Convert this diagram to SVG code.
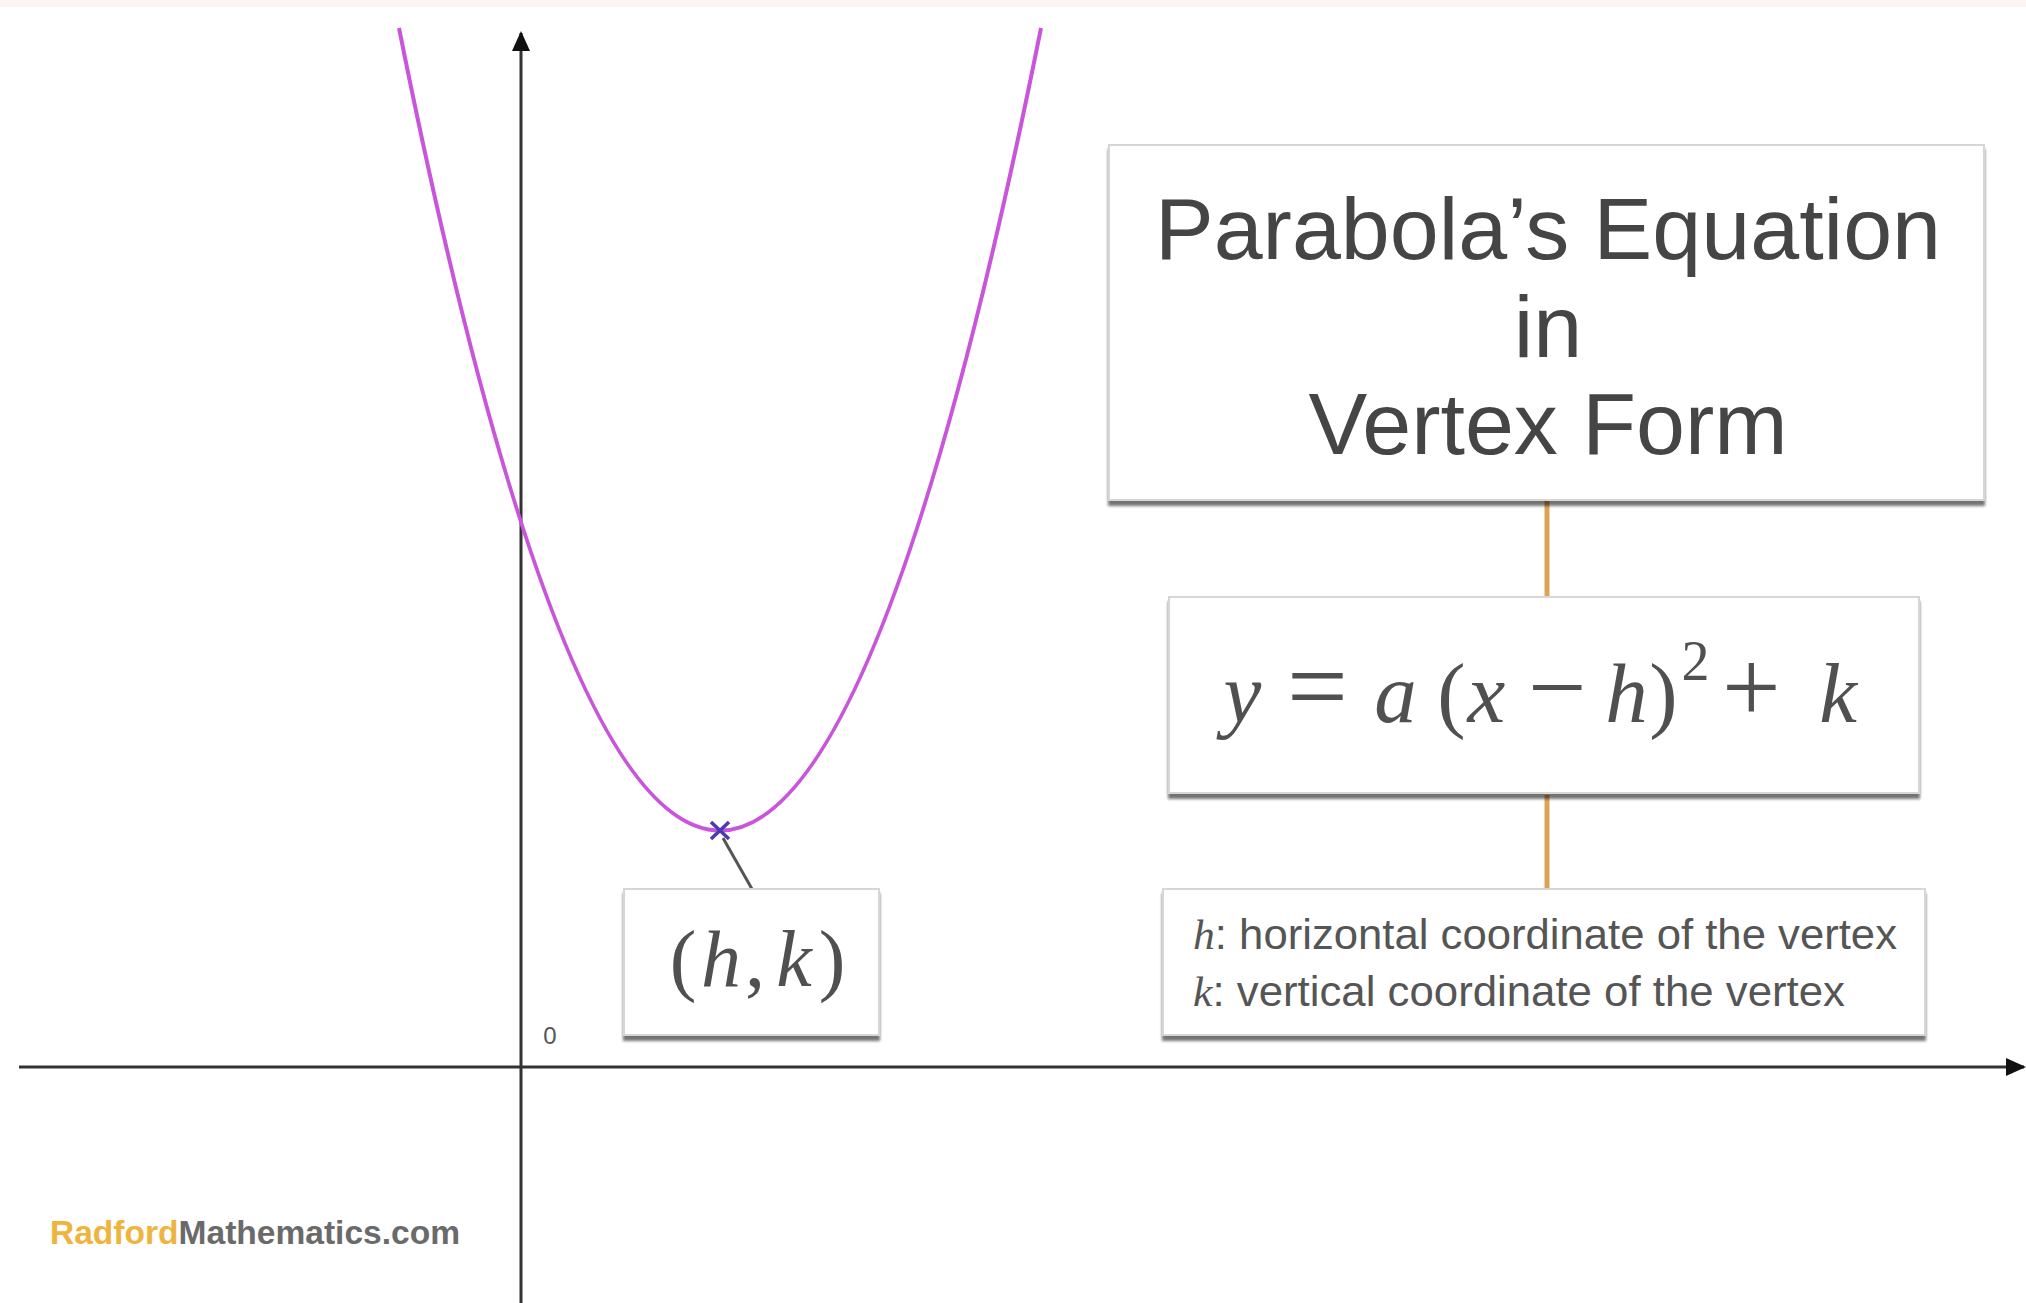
<svg xmlns="http://www.w3.org/2000/svg" width="2026" height="1303" viewBox="0 0 2026 1303">
<style>
.axis{stroke:#333;stroke-width:3;fill:none}
.box{fill:#fff;stroke:#d6d6d6;stroke-width:2;filter:url(#sh)}
.conn{stroke:#dea257;stroke-width:5;fill:none}
.title{font-family:"Liberation Sans",Arial,sans-serif;font-size:88px;fill:#454545;text-anchor:middle}
.math{font-family:"Liberation Serif","Times New Roman",serif;fill:#505050;text-anchor:middle}
.it{font-style:italic}
.desc{font-family:"Liberation Sans",Arial,sans-serif;font-size:42px;fill:#555}
</style>
<defs>
<filter id="sh" x="-5%" y="-10%" width="110%" height="125%">
<feGaussianBlur in="SourceAlpha" stdDeviation="1.8"/>
<feOffset dx="0" dy="5" result="o"/>
<feComponentTransfer><feFuncA type="linear" slope="0.55"/></feComponentTransfer>
<feMerge><feMergeNode/><feMergeNode in="SourceGraphic"/></feMerge>
</filter>
<marker id="arrB" viewBox="0 0 10 10" refX="9" refY="5" markerWidth="20" markerHeight="18" markerUnits="userSpaceOnUse" orient="auto" preserveAspectRatio="none">
<path d="M0,0 L10,5 L0,10 Z" fill="#111"/>
</marker>
</defs>
<rect x="0" y="0" width="2026" height="1303" fill="#fff"/>
<rect x="0" y="0" width="2026" height="7" fill="#fdf4f2"/>

<g id="axes">
<line class="axis" x1="521" y1="1303" x2="521" y2="33" marker-end="url(#arrB)"/>
<line class="axis" x1="19" y1="1067" x2="2024" y2="1067" marker-end="url(#arrB)"/>
<text x="550" y="1044" font-family="Liberation Sans,Arial,sans-serif" font-size="24" fill="#555" text-anchor="middle">0</text>
</g>

<g id="parabola">
<path d="M399,28 Q720,1633 1041,28" fill="none" stroke="#c955da" stroke-width="4"/>
</g>

<g id="vertex">
<path d="M711,822 L729,839 M729,822 L711,839" stroke="#4a3cb0" stroke-width="3.5"/>
</g>

<g id="connectors">
<line x1="723" y1="838" x2="752" y2="889" stroke="#555" stroke-width="3"/>
<line class="conn" x1="1547" y1="500" x2="1547" y2="597"/>
<line class="conn" x1="1547" y1="795" x2="1547" y2="889"/>
</g>

<g id="title-box">
<rect class="box" x="1109" y="145" width="875" height="355"/>
<text class="title" x="1548" y="259">Parabola’s Equation</text>
<text class="title" x="1548" y="357">in</text>
<text class="title" x="1548" y="454">Vertex Form</text>
</g>

<g id="equation-box">
<rect class="box" x="1169" y="597" width="750" height="196"/>
<text class="math" y="722" font-size="85">
<tspan class="it" x="1253">y</tspan>
<tspan x="1328" font-size="108">=</tspan>
<tspan class="it" x="1406">a</tspan>
<tspan x="1462">(</tspan>
<tspan class="it" x="1497">x</tspan>
<tspan x="1568" font-size="104">−</tspan>
<tspan class="it" x="1637">h</tspan>
<tspan x="1674">)</tspan>
<tspan x="1706" y="680" font-size="56">2</tspan>
<tspan x="1762" y="722" font-size="104">+</tspan>
<tspan class="it" x="1838">k</tspan>
</text>
</g>

<g id="description-box">
<rect class="box" x="1163" y="889" width="762" height="146"/>
<text class="desc" x="1193" y="949" textLength="704" lengthAdjust="spacingAndGlyphs"><tspan font-family="Liberation Serif,Times New Roman,serif" font-style="italic">h</tspan>: horizontal coordinate of the vertex</text>
<text class="desc" x="1193" y="1006" textLength="652" lengthAdjust="spacingAndGlyphs"><tspan font-family="Liberation Serif,Times New Roman,serif" font-style="italic">k</tspan>: vertical coordinate of the vertex</text>
</g>

<g id="vertex-label">
<rect class="box" x="624" y="889" width="255" height="146"/>
<text class="math" y="986" font-size="80">
<tspan x="693">(</tspan>
<tspan class="it" x="731">h</tspan>
<tspan x="765">,</tspan>
<tspan class="it" x="804">k</tspan>
<tspan x="832">)</tspan>
</text>
</g>

<g id="watermark">
<text x="50" y="1244" font-family="Liberation Sans,Arial,sans-serif" font-weight="bold" font-size="33" textLength="410" lengthAdjust="spacingAndGlyphs"><tspan fill="#efb43e">Radford</tspan><tspan fill="#6a6a6a">Mathematics.com</tspan></text>
</g>
</svg>
